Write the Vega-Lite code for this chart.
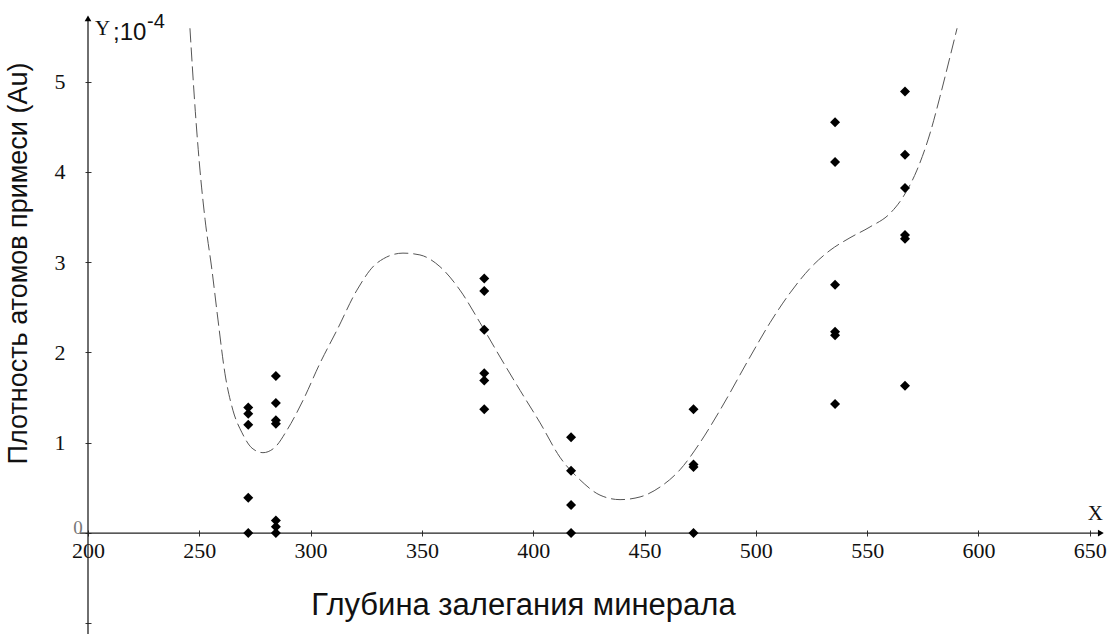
{
  "$schema": "https://vega.github.io/schema/vega-lite/v6.json",
  "width": 1110,
  "height": 634,
  "autosize": {"type": "none"},
  "padding": 0,
  "background": "white",
  "config": {"view": {"stroke": null}},
  "datasets": {
    "points": [
      {"x": 272, "y": 1.39}, {"x": 272, "y": 1.32}, {"x": 272, "y": 1.20}, {"x": 272, "y": 0.39}, {"x": 272, "y": 0},
      {"x": 284.4, "y": 1.74}, {"x": 284.4, "y": 1.44}, {"x": 284.4, "y": 1.25}, {"x": 284.4, "y": 1.21}, {"x": 284.4, "y": 0.14}, {"x": 284.4, "y": 0.07}, {"x": 284.4, "y": 0},
      {"x": 378, "y": 2.82}, {"x": 378, "y": 2.68}, {"x": 378, "y": 2.25}, {"x": 378, "y": 1.77}, {"x": 378, "y": 1.69}, {"x": 378, "y": 1.37},
      {"x": 417, "y": 1.06}, {"x": 417, "y": 0.69}, {"x": 417, "y": 0.31}, {"x": 417, "y": 0},
      {"x": 472, "y": 1.37}, {"x": 472, "y": 0.76}, {"x": 472, "y": 0.73}, {"x": 472, "y": 0},
      {"x": 535.6, "y": 4.55}, {"x": 535.6, "y": 4.11}, {"x": 535.6, "y": 2.75}, {"x": 535.6, "y": 2.23}, {"x": 535.6, "y": 2.19}, {"x": 535.6, "y": 1.43},
      {"x": 567, "y": 4.89}, {"x": 567, "y": 4.19}, {"x": 567, "y": 3.82}, {"x": 567, "y": 3.30}, {"x": 567, "y": 3.26}, {"x": 567, "y": 1.63}
    ],
    "curve": [
      {"x": 245.8, "y": 5.59}, {"x": 248.5, "y": 4.57}, {"x": 250.3, "y": 4.02}, {"x": 252.6, "y": 3.47},
      {"x": 255.7, "y": 2.91}, {"x": 258.4, "y": 2.36}, {"x": 261.5, "y": 1.77}, {"x": 265.1, "y": 1.36},
      {"x": 269.2, "y": 1.11}, {"x": 273.7, "y": 0.94}, {"x": 278.6, "y": 0.89}, {"x": 284.0, "y": 0.95},
      {"x": 289.4, "y": 1.14}, {"x": 296.6, "y": 1.47}, {"x": 304.2, "y": 1.88}, {"x": 311.9, "y": 2.25},
      {"x": 320.8, "y": 2.69}, {"x": 329.8, "y": 2.99}, {"x": 341.5, "y": 3.10}, {"x": 349.1, "y": 3.08},
      {"x": 358.1, "y": 2.95}, {"x": 367.1, "y": 2.69}, {"x": 376.1, "y": 2.33}, {"x": 385.1, "y": 1.95},
      {"x": 394.1, "y": 1.58}, {"x": 403.1, "y": 1.22}, {"x": 412.0, "y": 0.84}, {"x": 421.0, "y": 0.59},
      {"x": 430.0, "y": 0.42}, {"x": 439.0, "y": 0.37}, {"x": 448.0, "y": 0.40}, {"x": 457.0, "y": 0.51},
      {"x": 465.9, "y": 0.70}, {"x": 474.9, "y": 1.00}, {"x": 483.9, "y": 1.36}, {"x": 497.4, "y": 1.95},
      {"x": 506.4, "y": 2.33}, {"x": 515.4, "y": 2.66}, {"x": 524.3, "y": 2.93}, {"x": 533.3, "y": 3.13},
      {"x": 542.3, "y": 3.27}, {"x": 551.3, "y": 3.39}, {"x": 560.3, "y": 3.54}, {"x": 566.1, "y": 3.72},
      {"x": 572.4, "y": 4.02}, {"x": 578.3, "y": 4.43}, {"x": 582.7, "y": 4.83}, {"x": 587.2, "y": 5.27},
      {"x": 590.4, "y": 5.59}
    ]
  },
  "encoding": {
    "x": {
      "field": "x",
      "type": "quantitative",
      "scale": {"domain": [160.47, 659.1], "nice": false, "zero": false},
      "axis": {
        "orient": "bottom",
        "offset": -104,
        "values": [200, 250, 300, 350, 400, 450, 500, 550, 600, 650],
        "domain": false,
        "grid": false,
        "tickSize": 6,
        "tickColor": "#333333",
        "labelFont": "Liberation Serif",
        "labelFontSize": 22,
        "labelColor": "#111111",
        "labelPadding": 4,
        "labelFlush": false,
        "labelOverlap": false,
        "title": "Глубина залегания минерала",
        "titleFont": "Liberation Sans",
        "titleFontSize": 31,
        "titleFontWeight": "normal",
        "titleColor": "#111111",
        "titleX": 523,
        "titleY": 84,
        "titleAlign": "center",
        "titleBaseline": "alphabetic"
      }
    },
    "y": {
      "field": "y",
      "type": "quantitative",
      "scale": {"domain": [-1.118, 5.903], "nice": false, "zero": false},
      "axis": {
        "orient": "left",
        "offset": -91,
        "values": [-1, 0, 1, 2, 3, 4, 5],
        "labelExpr": "datum.value < 1 ? '' : datum.label",
        "domain": false,
        "grid": false,
        "tickSize": 6,
        "tickColor": "#333333",
        "labelFont": "Liberation Serif",
        "labelFontSize": 22,
        "labelColor": "#111111",
        "labelPadding": 20,
        "labelFlush": false,
        "labelOverlap": false,
        "title": "Плотность атомов примеси (Au)",
        "titleFont": "Liberation Sans",
        "titleFontSize": 27,
        "titleFontWeight": "normal",
        "titleColor": "#111111",
        "titleX": -65,
        "titleY": 263,
        "titleAngle": 270,
        "titleAlign": "center",
        "titleBaseline": "alphabetic"
      }
    }
  },
  "layer": [
    {
      "data": {"values": [{"x": 196.4, "x2": 654, "y": 0}]},
      "mark": {"type": "rule", "color": "#222222", "strokeWidth": 1.3},
      "encoding": {"x2": {"field": "x2"}}
    },
    {
      "data": {"values": [{"x": 200, "y": -1.2, "y2": 5.7}]},
      "mark": {"type": "rule", "color": "#222222", "strokeWidth": 1.3},
      "encoding": {"y2": {"field": "y2"}}
    },
    {
      "data": {"values": [{"x": 200, "y": 5.7}]},
      "mark": {"type": "point", "shape": "triangle-up", "filled": true, "color": "#000000", "size": 45, "opacity": 1}
    },
    {
      "data": {"values": [{"x": 655, "y": 0}]},
      "mark": {"type": "point", "shape": "triangle-right", "filled": true, "color": "#000000", "size": 45, "opacity": 1}
    },
    {
      "data": {"name": "curve"},
      "mark": {"type": "line", "interpolate": "monotone", "color": "#555555", "strokeWidth": 1, "strokeDash": [14, 5]}
    },
    {
      "data": {"name": "points"},
      "mark": {"type": "point", "shape": "diamond", "filled": true, "color": "#000000", "size": 100, "opacity": 1}
    },
    {
      "data": {"values": [{"x": 200, "y": 5.5, "t": "Y"}]},
      "mark": {"type": "text", "font": "Liberation Serif", "fontSize": 21, "align": "left", "baseline": "alphabetic", "dx": 7, "dy": -1, "color": "#111111"},
      "encoding": {"text": {"field": "t"}}
    },
    {
      "data": {"values": [{"x": 200, "y": 5.5, "t": ";10"}]},
      "mark": {"type": "text", "font": "Liberation Sans", "fontSize": 24, "align": "left", "baseline": "alphabetic", "dx": 25, "dy": 4, "color": "#111111"},
      "encoding": {"text": {"field": "t"}}
    },
    {
      "data": {"values": [{"x": 200, "y": 5.5, "t": "-4"}]},
      "mark": {"type": "text", "font": "Liberation Sans", "fontSize": 20, "align": "left", "baseline": "alphabetic", "dx": 59, "dy": -8, "color": "#111111"},
      "encoding": {"text": {"field": "t"}}
    },
    {
      "data": {"values": [{"x": 654, "y": 0, "t": "X"}]},
      "mark": {"type": "text", "font": "Liberation Serif", "fontSize": 21, "align": "left", "baseline": "alphabetic", "dx": -11, "dy": -13, "color": "#111111"},
      "encoding": {"text": {"field": "t"}}
    },
    {
      "data": {"values": [{"x": 200, "y": 0, "t": "0"}]},
      "mark": {"type": "text", "font": "Liberation Serif", "fontSize": 19, "align": "center", "baseline": "middle", "dx": -10, "dy": -5, "color": "#777777"},
      "encoding": {"text": {"field": "t"}}
    }
  ]
}
